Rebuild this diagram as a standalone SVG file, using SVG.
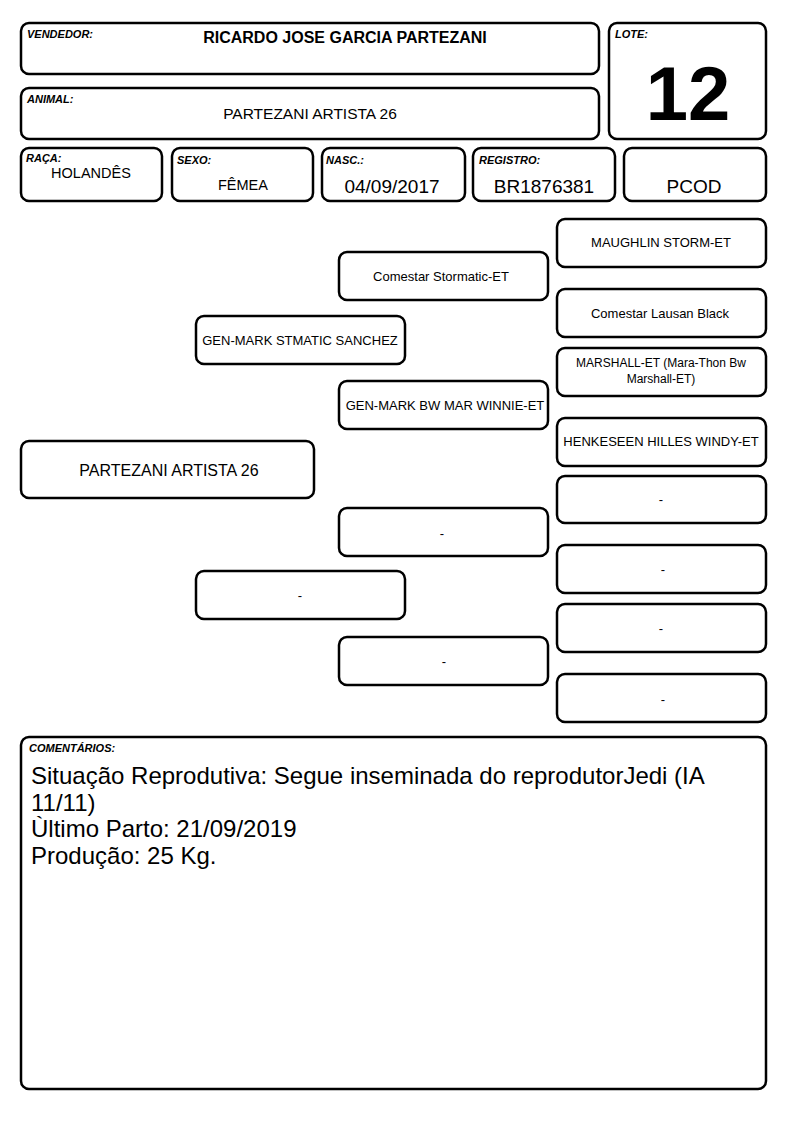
<svg xmlns="http://www.w3.org/2000/svg" width="794" height="1123" viewBox="0 0 794 1123">
<style>
rect{fill:#fff;stroke:#000;stroke-width:2.5}
text{font-family:"Liberation Sans",Arial,sans-serif;fill:#000}
.lb{font-size:11px;font-weight:bold;font-style:italic}
.v{font-size:16px;text-anchor:middle}
.p{font-size:13px;text-anchor:middle}
.c{font-size:24px}
</style>
<rect x="0" y="0" width="794" height="1123" style="stroke:none"/>
<g id="vendedor"><rect x="21" y="23" width="578" height="51" rx="8"/><text class="lb" x="27" y="38">VENDEDOR:</text><text x="345" y="43" style="font-size:16px;font-weight:bold;text-anchor:middle">RICARDO JOSE GARCIA PARTEZANI</text></g>
<g id="animal"><rect x="21" y="88" width="578" height="51" rx="8"/><text class="lb" x="27" y="103">ANIMAL:</text><text class="v" x="310" y="119" style="font-size:15.5px">PARTEZANI ARTISTA 26</text></g>
<g id="lote"><rect x="609" y="23" width="157" height="116" rx="8"/><text class="lb" x="615" y="38">LOTE:</text><text x="688" y="120" style="font-size:76px;font-weight:bold;text-anchor:middle">12</text></g>
<g id="raca"><rect x="21" y="148" width="141" height="53" rx="8"/><text class="lb" x="26" y="162">RAÇA:</text><text class="v" x="91" y="178" style="font-size:14.5px">HOLANDÊS</text></g>
<g id="sexo"><rect x="172" y="148" width="141" height="53" rx="8"/><text class="lb" x="177" y="164">SEXO:</text><text class="v" x="243" y="190" style="font-size:14.5px">FÊMEA</text></g>
<g id="nasc"><rect x="322" y="148" width="143" height="53" rx="8"/><text class="lb" x="326" y="164">NASC.:</text><text class="v" x="392" y="193" style="font-size:19px">04/09/2017</text></g>
<g id="registro"><rect x="473" y="148" width="142" height="53" rx="8"/><text class="lb" x="479" y="164">REGISTRO:</text><text class="v" x="544" y="193" style="font-size:19px">BR1876381</text></g>
<g id="pcod"><rect x="624" y="148" width="142" height="53" rx="8"/><text class="v" x="694" y="193" style="font-size:19px">PCOD</text></g>

<g id="ped-animal"><rect x="21" y="441" width="293" height="57" rx="8"/><text class="v" x="169" y="476">PARTEZANI ARTISTA 26</text></g>
<g id="sire"><rect x="196" y="316" width="209" height="48" rx="8"/><text class="p" x="300" y="345">GEN-MARK STMATIC SANCHEZ</text></g>
<g id="dam"><rect x="196" y="571" width="209" height="48" rx="8"/><text class="p" x="300" y="600">-</text></g>
<g id="ss"><rect x="339" y="252" width="209" height="48" rx="8"/><text class="p" x="441" y="281">Comestar Stormatic-ET</text></g>
<g id="sd"><rect x="339" y="381" width="209" height="48" rx="8"/><text class="p" x="445" y="410">GEN-MARK BW MAR WINNIE-ET</text></g>
<g id="ds"><rect x="339" y="508" width="209" height="48" rx="8"/><text class="p" x="442" y="538">-</text></g>
<g id="dd"><rect x="339" y="637" width="209" height="48" rx="8"/><text class="p" x="444" y="666">-</text></g>
<g id="sss"><rect x="557" y="219" width="209" height="48" rx="8"/><text class="p" x="661" y="247">MAUGHLIN STORM-ET</text></g>
<g id="ssd"><rect x="557" y="289" width="209" height="48" rx="8"/><text class="p" x="660" y="318">Comestar Lausan Black</text></g>
<g id="sds"><rect x="557" y="348" width="209" height="48" rx="8"/><text class="p" x="661" y="367" style="font-size:12px">MARSHALL-ET (Mara-Thon Bw</text><text class="p" x="661" y="383" style="font-size:12px">Marshall-ET)</text></g>
<g id="sdd"><rect x="557" y="418" width="209" height="48" rx="8"/><text class="p" x="661" y="446">HENKESEEN HILLES WINDY-ET</text></g>
<g id="dss"><rect x="557" y="476" width="209" height="47" rx="8"/><text class="p" x="661" y="504">-</text></g>
<g id="dsd"><rect x="557" y="545" width="209" height="48" rx="8"/><text class="p" x="663" y="574">-</text></g>
<g id="dds"><rect x="557" y="604" width="209" height="48" rx="8"/><text class="p" x="661" y="633">-</text></g>
<g id="ddd"><rect x="557" y="674" width="209" height="48" rx="8"/><text class="p" x="663" y="704">-</text></g>

<g id="comentarios"><rect x="21" y="737" width="745" height="352" rx="8"/><text class="lb" x="29" y="752">COMENTÁRIOS:</text>
<text class="c" x="31" y="784">Situação Reprodutiva: Segue inseminada do reprodutorJedi (IA</text>
<text class="c" x="31" y="811">11/11)</text>
<text class="c" x="31" y="837">Ùltimo Parto: 21/09/2019</text>
<text class="c" x="31" y="864">Produção: 25 Kg.</text></g>
<g id="connectors"/>
</svg>
